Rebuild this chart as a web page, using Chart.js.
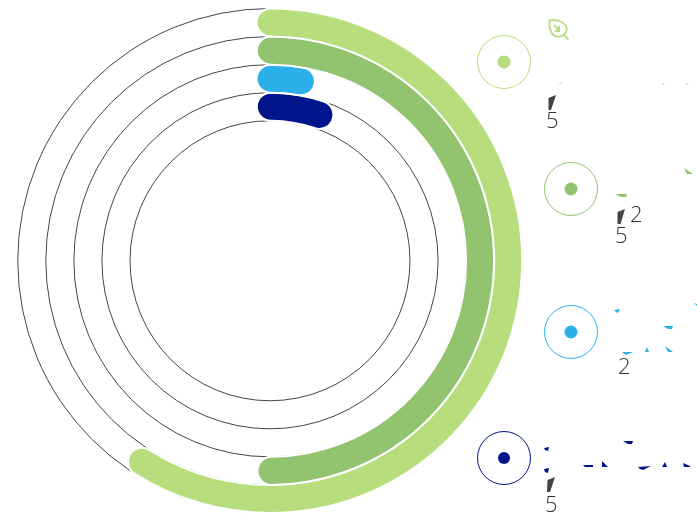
<!DOCTYPE html>
<html><head><meta charset="utf-8">
<script src="https://cdn.jsdelivr.net/npm/chart.js@4"></script>
<style>
html,body{margin:0;padding:0;background:#fff;overflow:hidden;width:697px;height:513px}
#wrap{position:absolute;left:0;top:0;width:697px;height:514px}
canvas{display:block}
.n{position:absolute;font-family:"Open Sans",sans-serif;font-weight:300;font-size:22px;line-height:22px;color:#333}
#over{position:absolute;left:0;top:0}
</style></head><body>
<div id="wrap"><canvas id="c" width="697" height="514"></canvas></div>
<svg id="over" width="697" height="513" xmlns="http://www.w3.org/2000/svg"></svg>
<script>
// Swept share of each ring, in percent (includes the rounded caps)
const rings = ["Ring 1","Ring 2","Ring 3","Ring 4"];
const shares = [60.85, 51.95, 5.1, 8.0];
const colors = ["#b7dd7c","#92c36f","#2cb0ea","#00148c"];
const startOffsetsDeg = [-3.2,-3.6,-4.2,-4.9];
const tickLabels = ["5","2","5","2","5"];

const guideCircles = {
  id:"guideCircles",
  beforeDatasetsDraw(chart){
    const ctx=chart.ctx, n=chart.data.datasets.length;
    ctx.save();
    ctx.strokeStyle="#444"; ctx.lineWidth=1;
    for(let i=0;i<n;i++){
      const a=chart.getDatasetMeta(i).data[0];
      ctx.beginPath();ctx.arc(a.x,a.y,a.outerRadius,0,Math.PI*2);ctx.stroke();
      if(i===n-1){ctx.beginPath();ctx.arc(a.x,a.y,a.innerRadius,0,Math.PI*2);ctx.stroke();}
    }
    ctx.restore();
  }
};

new Chart(document.getElementById("c"),{
  type:"doughnut",
  data:{
    labels:["value","rest"],
    datasets:rings.map((r,i)=>({
      label:r,
      data:[shares[i],100-shares[i]],
      rotation:startOffsetsDeg[i],
      backgroundColor:[colors[i],"rgba(0,0,0,0)"],
      borderColor:["#fff","rgba(0,0,0,0)"],
      borderWidth:[2,0],
      borderRadius:[14,0],
      weight:1
    }))
  },
  options:{
    responsive:false,animation:false,cutout:140,
    layout:{padding:{left:16.5,right:173.5,top:7.5,bottom:0}},
    plugins:{legend:{display:false},tooltip:{enabled:false}}
  },
  plugins:[guideCircles]
});

// Legend markers and leftover pieces of the label text
const NS="http://www.w3.org/2000/svg", svg=document.getElementById("over");
function el(t,a){const e=document.createElementNS(NS,t);for(const k in a)e.setAttribute(k,a[k]);svg.appendChild(e);return e;}
const legendPos=[[504,62],[571,189],[571,332],[504,458]];
legendPos.forEach((p,i)=>{
  el("circle",{cx:p[0],cy:p[1],r:26.5,fill:"none",stroke:colors[i],"stroke-width":1});
  el("circle",{cx:p[0],cy:p[1],r:i===3?6:6.5,fill:colors[i]});
});
const frags=[
 [0,"558,83.5 563,82.5 561,84"],[0,"662,83 665,83 663,85"],[0,"686,83.5 689,83 687,85"],
 [1,"615,194 627,194 626,197 621,197"],[1,"684,168 693,174 687,174"],
 [2,"614,310 620,309 618,313 616,312"],[2,"694,303 697,304 697,306"],[2,"663,326 673,326 672,329 668,329"],
 [2,"622,352 633,352 626,355"],[2,"645,352 647,347 649,352"],[2,"665,346 673,352 668,352"],
 [3,"544,448 549,447 548,451 545,450"],[3,"623,441 633,441 632,444 628,444"],[3,"544,469 549,468 548,473 545,472"],
 [3,"583,465 593,465 593,467 585,467"],[3,"602,461 608,467 602,467"],[3,"638,467 651,466 643,470 640,469"],
 [3,"662,467 665,462 667,467"],[3,"683,463 690,466 690,467 684,467"]
];
frags.forEach(f=>el("polygon",{points:f[1],fill:colors[f[0]]}));
["548.5,98 556,95 551,110 548.5,110","617.5,212 625,209 620.5,224 617.5,224","547.5,480 555,477 550,492 547,492"]
  .forEach(p=>el("polygon",{points:p,fill:"#444"}));
// leaf icon
el("path",{d:"M549.5 20.5 C556 19.5 565 21 566.5 28 C567.5 33 562 37.5 556.5 36.5 C551 35.5 548.5 27 549.5 20.5 Z",fill:"none",stroke:"#b7dd7c","stroke-width":1.8});
el("path",{d:"M564 35 L568.5 39.5",fill:"none",stroke:"#b7dd7c","stroke-width":1.8});
el("path",{d:"M554 25 L560 31 M559 26 L559 31 L555 31",fill:"none",stroke:"#b7dd7c","stroke-width":1.8});

const numPos=[[546,108],[630,202],[615,223],[618,354],[545,492]];
tickLabels.forEach((t,i)=>{
  const s=document.createElement("span");s.className="n";s.textContent=t;
  s.style.left=numPos[i][0]+"px";s.style.top=numPos[i][1]+"px";document.body.appendChild(s);
});
</script>
</body></html>
